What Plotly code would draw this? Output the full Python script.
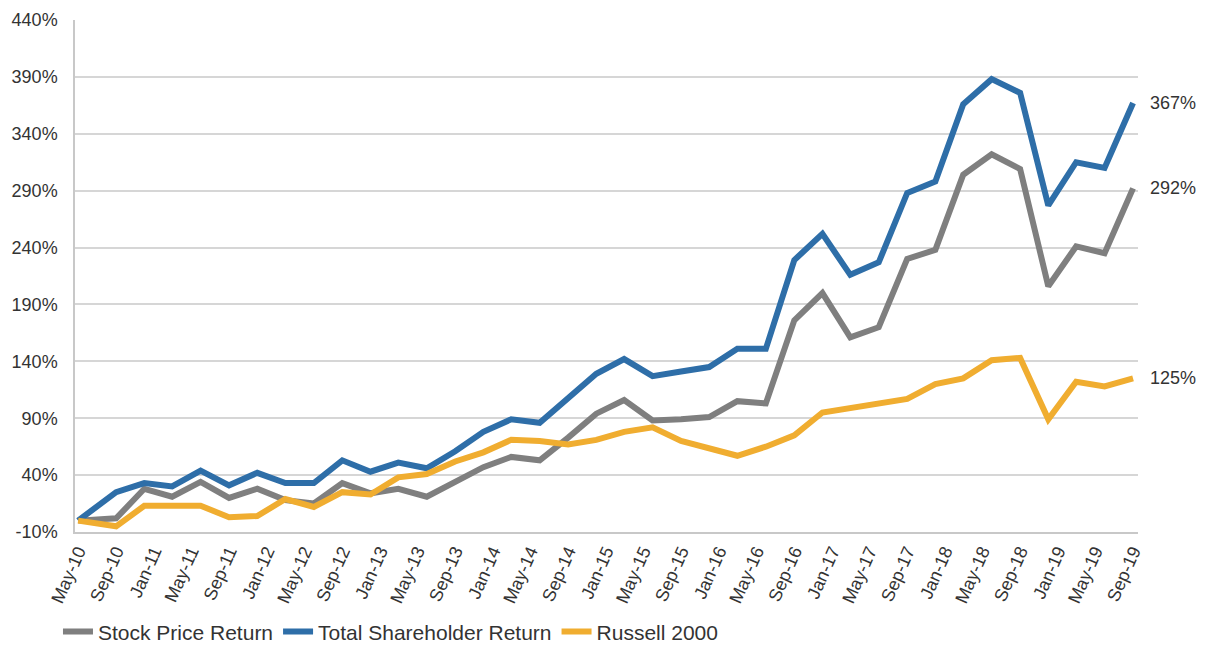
import plotly.graph_objects as go

dates = ["2010-05-01", "2010-09-01", "2010-12-01",
         "2011-03-01", "2011-06-01", "2011-09-01", "2011-12-01",
         "2012-03-01", "2012-06-01", "2012-09-01", "2012-12-01",
         "2013-03-01", "2013-06-01", "2013-09-01", "2013-12-01",
         "2014-03-01", "2014-06-01", "2014-09-01", "2014-12-01",
         "2015-03-01", "2015-06-01", "2015-09-01", "2015-12-01",
         "2016-03-01", "2016-06-01", "2016-09-01", "2016-12-01",
         "2017-03-01", "2017-06-01", "2017-09-01", "2017-12-01",
         "2018-03-01", "2018-06-01", "2018-09-01", "2018-12-01",
         "2019-03-01", "2019-06-01", "2019-09-01"]

stock_price = [0, 2, 28, 21, 34, 20, 28, 18, 15, 33, 24,
               28, 21, 34, 47, 56, 53, 73, 94, 106, 88, 89, 91,
               105, 103, 176, 200, 161, 170, 230, 238,
               304, 322, 309, 206, 241, 235, 292]

total_return = [0, 25, 33, 30, 44, 31, 42, 33, 33, 53, 43,
                51, 46, 61, 78, 89, 86, 107, 129, 142, 127, 131, 135,
                151, 151, 229, 252, 216, 227, 288, 298,
                366, 388, 376, 277, 315, 310, 367]

russell = [0, -5, 13, 13, 13, 3, 4, 19, 12, 25, 23,
           38, 41, 52, 60, 71, 70, 67, 71, 78, 82, 70, 63,
           57, 65, 75, 95, 99, 102, 107, 120,
           125, 141, 143, 89, 122, 118, 125]

y_ticks = [-10, 40, 90, 140, 190, 240, 290, 340, 390, 440]
y_ticktext = [f"{v}%" for v in y_ticks]

series = [
    ("Stock Price Return", stock_price, "#7f7f7f"),
    ("Total Shareholder Return", total_return, "#2e6ea8"),
    ("Russell 2000", russell, "#f0ad30"),
]

FONT = "Liberation Sans, Arial"

fig = go.Figure()
for name, vals, color in series:
    fig.add_trace(go.Scatter(x=dates, y=vals, name=name, mode="lines",
                             line=dict(color=color, width=6)))
    fig.add_annotation(x=dates[-1], y=vals[-1], text=f"{vals[-1]}%",
                       xref="x", yref="y", xanchor="left", yanchor="middle",
                       xshift=15, showarrow=False,
                       font=dict(family=FONT, size=18, color="#333333"))

fig.update_layout(
    width=1208, height=648,
    margin=dict(l=75, r=70, t=20, b=116, autoexpand=False),
    paper_bgcolor="white", plot_bgcolor="white",
    font=dict(family=FONT, color="#333333"),
    legend=dict(orientation="h", x=0.048, xref="container", xanchor="left",
                y=0.025, yref="container", yanchor="middle",
                font=dict(size=21, color="#333333"), itemwidth=30,
                tracegroupgap=0, itemclick=False),
    showlegend=True,
)
fig.update_xaxes(type="date", range=["2010-04-21", "2019-09-17"],
                 tick0="2010-05-01", dtick="M4", tickformat="%b-%y",
                 tickangle=-66, tickfont=dict(size=18, color="#333333"),
                 showgrid=False, showline=True, linecolor="#c8c8c8", linewidth=1.5,
                 ticks="", zeroline=False, automargin=False)
fig.update_yaxes(range=[-10, 440], tickmode="array", tickvals=y_ticks, ticktext=y_ticktext,
                 tickfont=dict(size=18, color="#333333"), ticklabelstandoff=12,
                 showgrid=True, gridcolor="#d6d6d6", gridwidth=1.5,
                 showline=True, linecolor="#c8c8c8", linewidth=1.5,
                 ticks="", zeroline=False, automargin=False)

fig.write_html("out.html")
